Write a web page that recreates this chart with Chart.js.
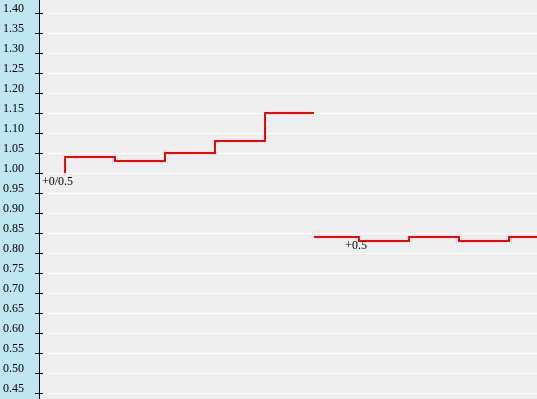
<!DOCTYPE html>
<html><head><meta charset="utf-8">
<script src="https://cdn.jsdelivr.net/npm/chart.js@4/dist/chart.umd.min.js"></script>
<style>html,body{margin:0;padding:0;background:#eeeeee;overflow:hidden}#wrap{width:537px;height:399px;position:relative}canvas{display:block}</style>
</head><body><div id="wrap"><canvas id="c" width="537" height="399"></canvas></div>
<script>
// Y-axis tick labels
const yTickLabels = ['0.45','0.50','0.55','0.60','0.65','0.70','0.75','0.80','0.85','0.90','0.95',
  '1.00','1.05','1.10','1.15','1.20','1.25','1.30','1.35','1.40'];
// First run of the line (x in time units, y odds)
const timesA = [0.5, 0.5, 1.5, 2.5, 3.5, 4.5, 5.48];
const oddsA  = [1.00, 1.04, 1.03, 1.05, 1.08, 1.15, 1.15];
// Second run of the line
const timesB = [5.48, 6.38, 7.38, 8.38, 9.38, 9.94];
const oddsB  = [0.84, 0.83, 0.84, 0.83, 0.84, 0.84];
// Handicap notes
const noteTexts = ['+0/0.5', '+0.5'];
const noteTimes = [0.5, 6.38];
const noteOdds  = [1.00, 0.84];

const yTickValues = yTickLabels.map(Number);
const FONT = "'Liberation Serif', 'Times New Roman', serif";

const decor = {
  id: 'decor',
  beforeDraw(chart) {
    const ctx = chart.ctx, ca = chart.chartArea, ys = chart.scales.y;
    ctx.save();
    ctx.fillStyle = '#eeeeee';
    ctx.fillRect(0, 0, chart.width, chart.height);
    ctx.fillStyle = '#bfe6f1';
    ctx.fillRect(0, 0, ca.left - 1, chart.height);
    ctx.strokeStyle = '#ffffff';
    ctx.lineWidth = 1;
    yTickValues.forEach(v => {
      const y = Math.round(ys.getPixelForValue(v)) + 0.5;
      ctx.beginPath(); ctx.moveTo(ca.left + 3, y); ctx.lineTo(chart.width, y); ctx.stroke();
    });
    ctx.restore();
  },
  afterDraw(chart) {
    const ctx = chart.ctx, ca = chart.chartArea, ys = chart.scales.y, xs = chart.scales.x;
    ctx.save();
    ctx.strokeStyle = '#000000';
    ctx.lineWidth = 1;
    ctx.beginPath(); ctx.moveTo(ca.left - 0.5, 0); ctx.lineTo(ca.left - 0.5, chart.height); ctx.stroke();
    yTickValues.forEach(v => {
      const y = Math.round(ys.getPixelForValue(v)) + 0.5;
      ctx.beginPath(); ctx.moveTo(ca.left - 5, y); ctx.lineTo(ca.left + 3, y); ctx.stroke();
    });
    ctx.fillStyle = '#000000';
    ctx.font = '12px ' + FONT;
    ctx.textAlign = 'right';
    ctx.textBaseline = 'middle';
    noteTexts.forEach((t, i) => {
      const x = xs.getPixelForValue(noteTimes[i]) + 8;
      const y = ys.getPixelForValue(noteOdds[i]) + 9;
      ctx.fillText(t, x, y);
    });
    ctx.restore();
  }
};

const mk = (ts, os) => ts.map((x, i) => ({ x, y: os[i] }));

new Chart(document.getElementById('c'), {
  type: 'line',
  data: {
    datasets: [
      { data: mk(timesA, oddsA), borderColor: '#ff0000', borderWidth: 2, pointRadius: 0, stepped: 'before', fill: false },
      { data: mk(timesB, oddsB), borderColor: '#ff0000', borderWidth: 2, pointRadius: 0, stepped: 'before', fill: false }
    ]
  },
  options: {
    responsive: false, animation: false, devicePixelRatio: 1,
    layout: { padding: 0 },
    events: [],
    plugins: { legend: { display: false }, tooltip: { enabled: false } },
    scales: {
      x: { type: 'linear', min: 0, max: 9.94, display: false },
      y: {
        type: 'linear', position: 'left', min: 0.435, max: 1.4325,
        afterFit(s) { s.width = 40; s.paddingTop = 0; s.paddingBottom = 0; },
        afterBuildTicks(s) { s.ticks = yTickValues.map(v => ({ value: v })); },
        grid: { display: false, drawTicks: false },
        border: { display: false },
        ticks: {
          autoSkip: false, padding: 16, labelOffset: -4, color: '#000000',
          font: { family: FONT, size: 12 },
          callback(v) { const i = yTickValues.findIndex(t => Math.abs(t - v) < 1e-6); return i >= 0 ? yTickLabels[i] : ''; }
        }
      }
    }
  },
  plugins: [decor]
});
</script></body></html>
